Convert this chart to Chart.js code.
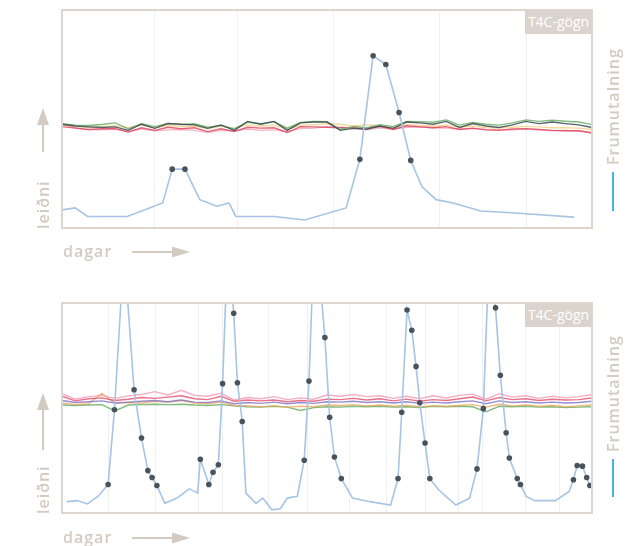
<!DOCTYPE html>
<html>
<head>
<meta charset="utf-8">
<script src="https://cdn.jsdelivr.net/npm/chart.js@4.4.1/dist/chart.umd.min.js"></script>
<style>
  html, body { margin: 0; padding: 0; background: #fff; }
  #wrap { position: relative; width: 642px; height: 546px; overflow: hidden; font-family: "Open Sans", sans-serif; }
  canvas { position: absolute; left: 0; }
  .lbl { position: absolute; color: #d3cbc2; font-size: 16px; font-weight: 600; letter-spacing: 1px; white-space: nowrap; line-height: 22px; }
  .rot { transform-origin: 0 0; transform: rotate(-90deg); }
  .tag { position: absolute; width: 67px; height: 24px; line-height: 24px; background: #dad4cd; color: #fff; font-size: 14px; text-align: center; }
</style>
</head>
<body>
<div id="wrap">
  <canvas id="topChart" width="642" height="273" style="top:0"></canvas>
  <canvas id="bottomChart" width="642" height="273" style="top:273px"></canvas>

  <div class="tag" style="left:525px; top:10px">T4C-gögn</div>
  <div class="tag" style="left:525px; top:303px">T4C-gögn</div>

  <div class="lbl rot" style="left:32px; top:229px">leiðni</div>
  <div class="lbl rot" style="left:32px; top:514px">leiðni</div>
  <div class="lbl" style="left:63px; top:240px">dagar</div>
  <div class="lbl" style="left:63px; top:526px">dagar</div>
  <div class="lbl rot" style="left:602px; top:165px">Frumutalning</div>
  <div class="lbl rot" style="left:602px; top:452px">Frumutalning</div>
</div>
<script>
// dagar (x) og leiðni (y, 0-100) lesið af myndinni

// efri mynd - frumutalning
const topCellDays = [0, 2.5, 4.8, 12.3, 19.0, 20.8, 23.2, 26.0, 29.2, 31.5, 32.8, 40.0, 45.8, 53.6, 56.2, 58.7, 61.1, 63.6, 65.8, 67.9, 70.6, 73.8, 79.0, 85.5, 96.6];
const topCellValues = [8.3, 9.2, 5.3, 5.3, 11.5, 27, 27, 13, 10, 11.5, 5.3, 5.3, 3.7, 9.2, 31.5, 79, 75, 53, 31, 19, 13, 11.5, 7.8, 6.9, 5];
const topCellMarks = [0, 0, 0, 0, 0, 1, 1, 0, 0, 0, 0, 0, 0, 0, 1, 1, 1, 1, 1, 0, 0, 0, 0, 0, 0];

// leiðni mæla, sameiginlegir dagar
const midDays = [0, 2.5, 5, 7.5, 10, 12.5, 15, 17.5, 20, 22.5, 25, 27.5, 30, 32.5, 35, 37.5, 40, 42.5, 45, 47.5, 50, 52.5, 55, 57.5, 60, 62.5, 65, 67.5, 70, 72.5, 75, 77.5, 80, 82.5, 85, 87.5, 90, 92.5, 95, 97.5, 100];

const topDark = [47.6, 46.8, 46.4, 46.1, 46.4, 44.8, 47.6, 45.7, 47.9, 47.6, 47.3, 45.7, 47.3, 44.8, 48.9, 47.6, 48.9, 44.8, 48.2, 48.6, 48.6, 44.8, 45.7, 45.3, 46.8, 45.7, 48.6, 48.2, 47.6, 48.9, 46.1, 47.9, 46.8, 46.1, 47.3, 48.9, 47.9, 48.6, 47.9, 47.3, 46.1];
const topGreen = [47.8, 47.2, 47.0, 47.5, 48.2, 45.5, 47.8, 46.5, 48.0, 47.4, 47.8, 46.2, 47.0, 45.5, 48.5, 47.8, 48.8, 45.8, 48.4, 48.9, 48.8, 45.2, 46.6, 46.0, 47.4, 46.5, 48.9, 48.8, 48.5, 49.6, 47.2, 48.4, 47.6, 47.2, 48.2, 49.6, 48.9, 49.4, 49.0, 48.6, 47.4];
const topRed = [46.5, 45.8, 45.2, 45.5, 45.6, 44.0, 46.0, 44.8, 46.2, 45.5, 46.0, 44.2, 45.5, 44.2, 46.2, 45.8, 46.0, 43.8, 46.5, 46.4, 46.2, 46.0, 46.0, 45.8, 46.6, 45.2, 46.9, 46.4, 46.0, 46.5, 45.2, 45.8, 45.0, 44.8, 45.4, 45.6, 45.2, 44.8, 44.6, 44.6, 43.6];
const topPink = [48.0, 46.0, 45.0, 45.0, 45.4, 44.4, 45.4, 44.6, 45.0, 45.2, 44.8, 43.8, 44.8, 44.6, 45.4, 44.8, 45.0, 44.2, 45.6, 45.8, 46.4, 46.2, 45.8, 45.0, 46.0, 45.4, 46.2, 46.4, 46.0, 45.8, 45.4, 45.6, 45.2, 45.0, 45.0, 45.4, 45.0, 44.6, 44.8, 44.4, 44.0];
const topYellow = [47.0, 46.6, 46.2, 46.5, 46.8, 46.0, 47.2, 46.0, 47.0, 46.6, 46.8, 45.6, 46.6, 45.8, 47.2, 46.8, 47.2, 45.4, 47.0, 47.4, 47.8, 47.6, 46.8, 47.4, 46.8, 46.0, 47.4, 47.0, 46.8, 47.2, 46.2, 46.8, 46.0, 45.8, 46.2, 46.6, 46.4, 46.0, 46.0, 45.8, 45.2];

const topGridDays = [17.5, 33.2, 51.3, 71.3, 87.7];

// neðri mynd - frumutalning
const bottomCellDays = [0.9, 2.9, 4.8, 6.8, 8.7, 9.9, 11.7, 13.6, 15.0, 16.2, 17.0, 17.9, 19.4, 21.7, 24.0, 25.0, 25.6, 26.1, 27.7, 28.5, 29.5, 30.3, 31.3, 32.4, 33.1, 34.0, 34.7, 36.6, 37.9, 39.6, 41.2, 42.5, 44.4, 45.7, 46.6, 47.7, 49.6, 50.5, 51.4, 52.7, 54.8, 58.1, 62.0, 63.4, 64.1, 65.1, 66.0, 66.8, 67.5, 68.5, 69.4, 71.0, 74.3, 76.9, 78.3, 79.5, 80.6, 81.8, 82.7, 83.8, 84.4, 85.9, 86.5, 87.6, 89.2, 93.1, 95.7, 96.5, 97.2, 98.2, 99.0, 99.6];
const bottomCellValues = [5.4, 5.9, 4.3, 7.9, 13.6, 49.2, 125, 58.7, 35.7, 20.2, 16.9, 13.1, 4.6, 7.1, 11.5, 10.3, 9.5, 25.6, 13.6, 19.4, 23.0, 61.6, 130, 95.1, 62.0, 43.6, 9.5, 4.6, 7.1, 1.5, 2.0, 7.1, 7.9, 25.1, 62.8, 140, 83.6, 45.6, 26.7, 16.4, 7.1, 5.4, 3.8, 16.4, 48.0, 96.7, 87.0, 69.8, 52.5, 33.3, 16.4, 11.2, 3.8, 7.1, 21.0, 49.7, 125, 97.7, 65.6, 38.2, 26.2, 16.4, 13.6, 7.9, 5.9, 5.9, 10.3, 15.8, 22.6, 22.3, 16.9, 13.1];
const bottomCellMarks = [0, 0, 0, 0, 1, 1, 0, 1, 1, 1, 1, 1, 0, 0, 0, 0, 0, 1, 1, 1, 1, 1, 0, 1, 1, 1, 0, 0, 0, 0, 0, 0, 0, 1, 1, 0, 1, 1, 1, 1, 0, 0, 0, 1, 1, 1, 1, 1, 1, 1, 1, 0, 0, 0, 1, 1, 0, 1, 1, 1, 1, 1, 1, 0, 0, 0, 0, 1, 1, 1, 1, 1];

const bottomPink = [56.8, 54.2, 55.4, 56.0, 54.6, 55.8, 56.4, 57.8, 56.2, 58.4, 56.0, 55.6, 57.0, 53.8, 55.0, 54.4, 55.4, 54.0, 54.8, 54.2, 56.2, 55.6, 56.4, 55.4, 55.8, 54.6, 55.6, 54.4, 55.8, 54.8, 56.0, 56.6, 54.2, 56.8, 55.2, 55.8, 54.6, 55.6, 54.8, 55.4, 56.4];
const bottomRed = [55.6, 53.4, 54.4, 54.8, 53.6, 54.2, 55.0, 54.6, 55.2, 55.8, 54.4, 54.0, 55.6, 53.2, 53.8, 53.4, 53.8, 53.0, 53.6, 53.2, 54.2, 54.0, 54.6, 53.8, 54.4, 53.4, 54.2, 53.2, 54.0, 53.6, 54.4, 55.2, 53.4, 55.0, 54.0, 54.4, 53.6, 54.2, 53.8, 54.0, 54.8];
const bottomPurple = [53.6, 52.6, 53.0, 53.4, 52.4, 52.8, 53.2, 53.6, 53.0, 53.8, 52.8, 52.6, 53.4, 52.0, 52.6, 52.2, 52.8, 52.0, 52.6, 52.2, 53.0, 52.8, 53.2, 52.6, 53.0, 52.4, 53.0, 52.2, 52.8, 52.4, 53.0, 53.4, 52.0, 53.4, 52.6, 53.0, 52.4, 52.8, 52.4, 52.6, 53.2];
const bottomOrange = [52.4, 51.6, 52.0, 57.0, 52.2, 52.6, 52.4, 53.2, 52.8, 53.6, 52.4, 52.0, 52.8, 51.2, 51.0, 50.6, 51.0, 50.4, 50.8, 50.6, 51.4, 51.2, 51.6, 51.0, 51.4, 50.8, 51.2, 50.6, 51.0, 50.8, 51.2, 51.6, 50.4, 51.8, 51.0, 51.4, 50.8, 51.2, 50.6, 51.0, 51.4];
const bottomGreen = [51.4, 51.2, 51.4, 51.6, 48.6, 51.4, 51.6, 51.8, 51.6, 51.8, 51.4, 51.2, 51.6, 51.0, 50.6, 50.4, 50.8, 50.4, 48.8, 50.2, 50.6, 50.4, 50.8, 50.6, 50.8, 50.4, 50.6, 50.2, 50.8, 50.6, 50.8, 50.6, 48.2, 50.8, 50.6, 50.8, 50.4, 50.6, 50.2, 50.4, 50.6];

const bottomGridDays = [8.7, 17.7, 25.7, 30.2, 38.9, 46.4, 54.2, 61.3, 68.5, 74.9, 79.4, 87.4, 93.8];

const COLORS = {
  cell: '#a6c4e4',
  marker: '#4a535c',
  decor: '#d3cbc2',
  frame: '#dcd6cf',
  grid: '#eef1f4',
  legendBlue: '#1c9fe0'
};

function toPoints(days, values) {
  return days.map((d, i) => ({ x: d, y: values[i] }));
}

function sensorLine(days, values, color) {
  return {
    data: toPoints(days, values),
    borderColor: color,
    borderWidth: 1.4,
    pointRadius: 0,
    tension: 0
  };
}

function cellLine(days, values, marks) {
  return {
    data: toPoints(days, values),
    borderColor: COLORS.cell,
    borderWidth: 1.6,
    pointRadius: ctx => marks[ctx.dataIndex] ? 2.8 : 0,
    pointBackgroundColor: COLORS.marker,
    pointBorderWidth: 0,
    tension: 0
  };
}

// rammi, örvar og litur frumutalningar
const decorPlugin = {
  id: 'decor',
  afterDraw(chart, args, opts) {
    const { ctx, chartArea } = chart;
    ctx.save();
    ctx.strokeStyle = COLORS.frame;
    ctx.lineWidth = 2;
    ctx.strokeRect(chartArea.left, chartArea.top, chartArea.right - chartArea.left, chartArea.bottom - chartArea.top);

    ctx.strokeStyle = COLORS.decor;
    ctx.fillStyle = COLORS.decor;
    ctx.lineWidth = 2;

    const [ux, uy1, uy2] = opts.upArrow;
    ctx.beginPath();
    ctx.moveTo(ux, uy1);
    ctx.lineTo(ux, uy2 + 14);
    ctx.stroke();
    ctx.beginPath();
    ctx.moveTo(ux, uy2);
    ctx.lineTo(ux - 6, uy2 + 17);
    ctx.lineTo(ux + 6, uy2 + 17);
    ctx.closePath();
    ctx.fill();

    const [rx1, rx2, ry] = opts.rightArrow;
    ctx.beginPath();
    ctx.moveTo(rx1, ry);
    ctx.lineTo(rx2 - 14, ry);
    ctx.stroke();
    ctx.beginPath();
    ctx.moveTo(rx2, ry);
    ctx.lineTo(rx2 - 18, ry - 5.5);
    ctx.lineTo(rx2 - 18, ry + 5.5);
    ctx.closePath();
    ctx.fill();

    const [lx, ly1, ly2] = opts.legendLine;
    ctx.strokeStyle = COLORS.legendBlue;
    ctx.lineWidth = 1.6;
    ctx.beginPath();
    ctx.moveTo(lx, ly1);
    ctx.lineTo(lx, ly2);
    ctx.stroke();
    ctx.restore();
  }
};

function makeChart(id, datasets, gridDays, padding, decor) {
  return new Chart(document.getElementById(id), {
    type: 'line',
    data: { datasets },
    options: {
      responsive: false,
      animation: false,
      layout: { padding },
      plugins: { legend: { display: false }, tooltip: { enabled: false }, decor },
      scales: {
        x: {
          type: 'linear',
          min: 0,
          max: 100,
          afterBuildTicks: scale => { scale.ticks = gridDays.map(v => ({ value: v })); },
          ticks: { display: false },
          grid: { color: COLORS.grid, drawTicks: false },
          border: { display: false }
        },
        y: { display: false, min: 0, max: 100 }
      }
    },
    plugins: [decorPlugin]
  });
}

makeChart('topChart', [
  cellLine(topCellDays, topCellValues, topCellMarks),
  sensorLine(midDays, topDark, 'rgba(60,70,82,0.85)'),
  sensorLine(midDays, topGreen, 'rgba(104,176,104,0.85)'),
  sensorLine(midDays, topRed, 'rgba(222,64,88,0.8)'),
  sensorLine(midDays, topPink, 'rgba(240,150,180,0.7)'),
  sensorLine(midDays, topYellow, 'rgba(240,190,90,0.6)')
], topGridDays, { left: 62, right: 50, top: 10, bottom: 45 }, {
  upArrow: [43, 152, 108],
  rightArrow: [132, 190, 252],
  legendLine: [613, 172, 211]
});

makeChart('bottomChart', [
  cellLine(bottomCellDays, bottomCellValues, bottomCellMarks),
  sensorLine(midDays, bottomPurple, 'rgba(128,112,196,0.8)'),
  sensorLine(midDays, bottomRed, 'rgba(224,64,96,0.75)'),
  sensorLine(midDays, bottomPink, 'rgba(240,140,170,0.7)'),
  sensorLine(midDays, bottomOrange, 'rgba(234,160,80,0.75)'),
  sensorLine(midDays, bottomGreen, 'rgba(104,176,104,0.85)')
], bottomGridDays, { left: 62, right: 50, top: 30, bottom: 33 }, {
  upArrow: [43, 177, 120],
  rightArrow: [132, 190, 265],
  legendLine: [613, 186, 224]
});
</script>
</body>
</html>
